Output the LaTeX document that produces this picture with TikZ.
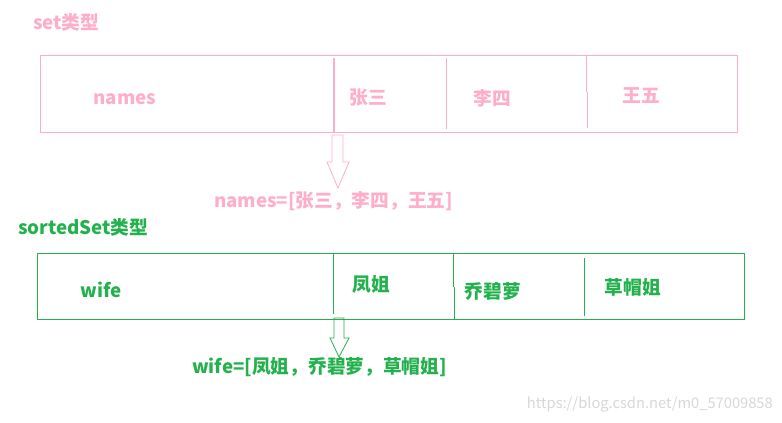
\documentclass[tikz,border=0pt]{standalone}
\usepackage{fontspec}
\setmainfont{Noto Sans CJK SC}
\definecolor{pinkc}{RGB}{255,174,201}
\definecolor{greenc}{RGB}{34,177,76}
\definecolor{wm}{RGB}{215,215,215}
\begin{document}
\begin{tikzpicture}[x=1pt,y=-1pt,
  lbl/.style={inner sep=0pt,font=\fontsize{18.7}{18.7}\selectfont\bfseries},
  pinkline/.style={draw=pinkc,line width=1pt},
  greenline/.style={draw=greenc,line width=1pt}]
\useasboundingbox (0,0) rectangle (782,423);
% ---- set ----
\node[lbl,text=pinkc,anchor=west] (settitle) at (33,22) {set类型};
\node[pinkline,minimum width=697pt,minimum height=77pt,anchor=north west,inner sep=0pt] (setbox) at (40,55) {};
\draw[pinkc,line width=2pt] (334,58) -- (334,132);
\draw[pinkline] (446,58) -- (446,129);
\draw[pinkline] (586,55) -- (586,92) (587,92) -- (587,128);
\node[lbl,text=pinkc] (names) at (125,99) {names};
\node[lbl,text=pinkc] (zs) at (368,98) {张三};
\node[lbl,text=pinkc] (ls) at (492,98) {李四};
\node[lbl,text=pinkc] (ww) at (641,96) {王五};
\draw[pinkline,line width=0.8pt] (332,135) -- (343,135) -- (343,162) -- (349,162) -- (338,188) -- (327,162) -- (332,162) -- cycle;
\node[lbl,text=pinkc,anchor=west] (setres) at (214,201) {names=[张三，李四，王五]};
% ---- sortedSet ----
\node[lbl,text=greenc,anchor=west] (zsettitle) at (18,227) {sortedSet类型};
\node[greenline,minimum width=707pt,minimum height=66pt,anchor=north west,inner sep=0pt] (zsetbox) at (37,253) {};
\draw[greenline] (333,253) -- (333,314);
\draw[greenline] (453,253) -- (453,287) (454,287) -- (454,319);
\draw[greenline] (584,258) -- (584,316);
\node[lbl,text=greenc] (wife) at (101,290) {wife};
\node[lbl,text=greenc] (fj) at (371,284) {凤姐};
\node[lbl,text=greenc] (qbl) at (493,291) {乔碧萝};
\node[lbl,text=greenc] (cmj) at (633,287) {草帽姐};
\draw[greenline,line width=0.8pt] (334,318) -- (344,318) -- (344,338) -- (349,338) -- (339,357) -- (330,338) -- (334,338) -- cycle;
\node[lbl,text=greenc,anchor=west] (zsetres) at (192,367) {wife=[凤姐，乔碧萝，草帽姐]};
% ---- watermark ----
\node[inner sep=0pt,anchor=east,text=wm,font=\fontsize{14.7}{14.7}\selectfont] (wmk) at (773,404) {https://blog.csdn.net/m0\_57009858};
\end{tikzpicture}
\end{document}
